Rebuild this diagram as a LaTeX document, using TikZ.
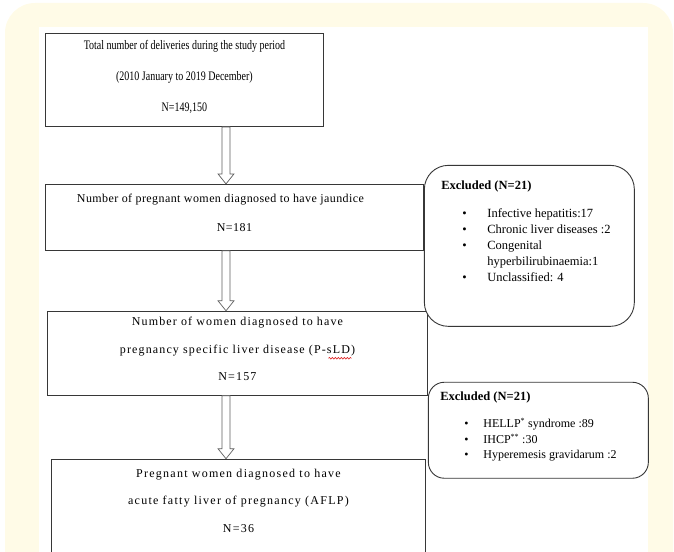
\documentclass[tikz,border=0pt]{standalone}
\usepackage{fontspec}
\setmainfont{Liberation Serif}
\usetikzlibrary{positioning, calc, decorations.pathmorphing}

\definecolor{panelcream}{RGB}{255,251,231}
\definecolor{boxline}{RGB}{55,55,55}
\definecolor{arrowline}{RGB}{95,95,95}
\definecolor{spellred}{RGB}{220,30,30}

\tikzset{
  flowbox/.style={rectangle, draw=boxline, line width=0.9pt, fill=white,
    align=center, inner sep=0pt, anchor=north west},
  exclbox/.style={rectangle, rounded corners=24pt, draw=boxline,
    line width=0.9pt, fill=white, inner ysep=0pt, anchor=north west},
  blockarrow/.style={draw=arrowline, line width=0.7pt, fill=white},
  spellmark/.style={draw=spellred, line width=0.6pt,
    decorate, decoration={snake, segment length=3pt, amplitude=0.9pt}},
}

% hollow down arrow from one box to the next, on the spine
\newcommand{\flowarrow}[2]{%
  \draw[blockarrow] let \p1=(spine |- #1.south), \p2=(spine |- #2.north) in
    (\x1-4pt,\y1) -- (\x1-4pt,\y2+10pt) -- (\x1-8pt,\y2+10pt) -- (\x2,\y2)
    -- (\x1+8pt,\y2+10pt) -- (\x1+4pt,\y2+10pt) -- (\x1+4pt,\y1) -- cycle;}

\newlength{\bulletin}
\newlength{\bulletgap}
\newcommand{\exitem}[1]{\par\hspace*{\bulletin}\makebox[\bulletgap][l]{\textbullet}#1}
\newcommand{\excont}[1]{\par\hspace*{\dimexpr\bulletin+\bulletgap\relax}#1}

\begin{document}
\begin{tikzpicture}[x=1pt, y=-1pt]
  \useasboundingbox (0,0) rectangle (674,551);
  % panel
  \fill[panelcream, rounded corners=30pt] (5,3) rectangle (673,600);
  \fill[white] (39,27) rectangle (648,600);

  \coordinate (spine) at (226,0);

  % main column
  \node[flowbox, minimum width=278pt, minimum height=93pt,
        font={\fontsize{13pt}{31pt}\selectfont\addfontfeatures{FakeStretch=0.77}}]
        (deliveries) at (45,33)
        {Total number of deliveries during the study period\\(2010 January to 2019 December)\\N=149,150\\[-23pt]\mbox{}};
  \node[flowbox, minimum width=378pt, minimum height=66pt,
        font={\fontsize{12pt}{29pt}\selectfont\addfontfeatures{LetterSpace=3.5}},
        below=57pt of deliveries.south west, anchor=north west]
        (jaundice) {Number of pregnant women diagnosed to have jaundice\kern28pt\\N=181\\[-20pt]\mbox{}};
  \node[flowbox, minimum width=380pt, minimum height=84pt,
        font={\fontsize{12pt}{27.5pt}\selectfont\addfontfeatures{LetterSpace=9.5}},
        below=60pt of jaundice.south west, anchor=north west, xshift=2pt]
        (psld) {Number of women diagnosed to have\\pregnancy specific liver disease (P-sLD)\\N=157\\[-19.5pt]\mbox{}};
  \node[flowbox, minimum width=374pt, minimum height=94pt,
        font={\fontsize{12pt}{27.5pt}\selectfont\addfontfeatures{LetterSpace=10.5}},
        below=63pt of psld.south west, anchor=north west, xshift=4pt]
        (aflp) {Pregnant women diagnosed to have\\acute fatty liver of pregnancy (AFLP)\\N=36\\[-16.5pt]\mbox{}};

  % spell-check mark under sLD
  \draw[spellmark] ($(psld.center)+(91,5)$) -- ($(psld.center)+(114,5)$);

  % exclusions
  \node[exclbox, inner xsep=17pt, font={\fontsize{12.5pt}{16pt}\selectfont},
        right=0pt of jaundice.north east, anchor=north west, yshift=19pt]
        (excl1) {\parbox[c][161pt][t]{176pt}{%
          \setlength{\bulletin}{21pt}\setlength{\bulletgap}{25pt}%
          \vspace*{15pt}\textbf{Excluded (N=21)}\par\vspace{12pt}%
          \exitem{Infective hepatitis:17}
          \exitem{Chronic liver diseases :2}
          \exitem{Congenital}
          \excont{hyperbilirubinaemia:1}
          \exitem{Unclassified: 4}}};
  \node[exclbox, rounded corners=16pt, inner xsep=12pt,
        font={\fontsize{12pt}{15.5pt}\selectfont},
        right=0pt of psld.north east, anchor=north west, yshift=-71pt]
        (excl2) {\parbox[c][96pt][t]{196pt}{%
          \setlength{\bulletin}{24pt}\setlength{\bulletgap}{19pt}%
          \vspace*{10pt}{\fontsize{12.5pt}{15.5pt}\selectfont\textbf{Excluded (N=21)}}\par\vspace{11.5pt}%
          \exitem{HELLP\textsuperscript{*} syndrome :89}
          \exitem{IHCP\textsuperscript{**} :30}
          \exitem{Hyperemesis gravidarum :2}}};

  % arrows
  \flowarrow{deliveries}{jaundice}
  \flowarrow{jaundice}{psld}
  \flowarrow{psld}{aflp}
\end{tikzpicture}
\end{document}
